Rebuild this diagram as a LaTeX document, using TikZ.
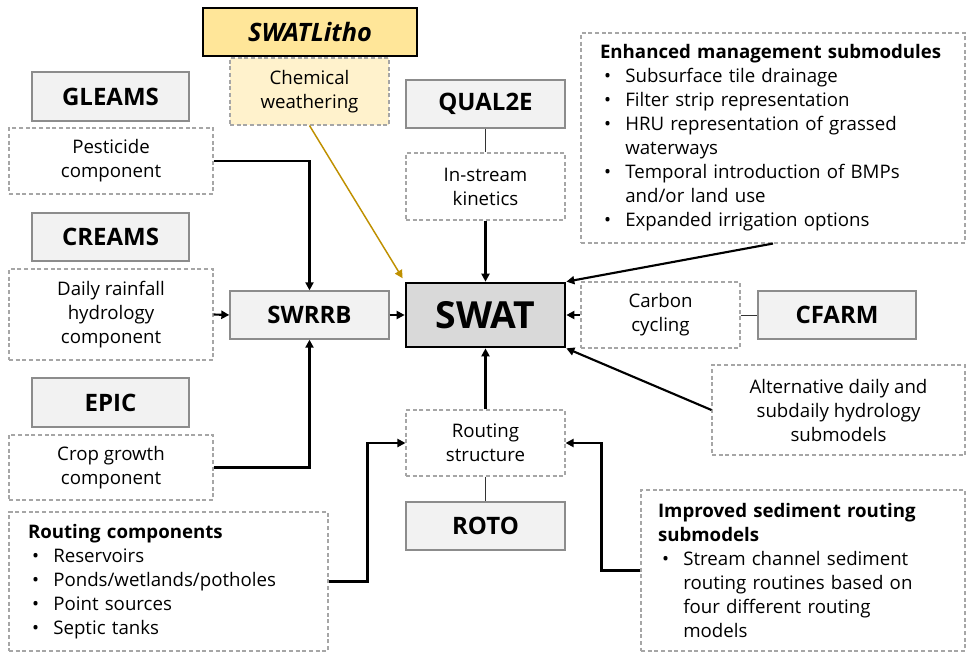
\documentclass[tikz,border=0pt]{standalone}
\usepackage{fontspec}
\setmainfont{Open Sans}
\usetikzlibrary{arrows.meta}
\definecolor{boxfill}{HTML}{F2F2F2}
\definecolor{boxline}{HTML}{8C8C8C}
\definecolor{dashline}{HTML}{A6A6A6}
\definecolor{swatfill}{HTML}{D9D9D9}
\definecolor{lithofill}{HTML}{FFE699}
\definecolor{chemfill}{HTML}{FFF2CC}
\definecolor{goldline}{HTML}{BF9000}
\newcommand{\myitem}{\makebox[19pt][l]{\hspace{3pt}\textbullet}}
\newcommand{\mycont}{\hspace*{19pt}}
\begin{document}
\begin{tikzpicture}[x=0.75pt,y=-0.75pt,
  model/.style={draw=boxline, line width=1pt, fill=boxfill, font=\fontsize{18}{21}\selectfont\bfseries, inner sep=0pt, minimum width=118.5pt, minimum height=36pt},
  comp/.style={draw=dashline, dash pattern=on 3pt off 2pt, line width=0.8pt, fill=white, font=\fontsize{14}{18}\selectfont, align=center, inner sep=0pt},
  listbox/.style={comp, align=left, inner ysep=0pt},
  arr/.style={-{Triangle[length=6pt,width=6pt]}, line width=1.6pt},
  link/.style={line width=0.75pt, draw=black!80}]
\useasboundingbox (0,0) rectangle (966,653);

% top left
\node[model, fill=lithofill, draw=black, minimum width=160.5pt, font=\fontsize{19}{22}\selectfont\bfseries\itshape] (litho) at (310,32) {SWATLitho};
\node[comp, fill=chemfill, minimum width=119.25pt, minimum height=50.25pt] (chem) at (309.5,91.5) {Chemical\\weathering};

\node[model, minimum width=117.75pt, minimum height=36.75pt] (gleams) at (110.5,96.5) {GLEAMS};
\node[comp, minimum width=153pt, minimum height=49.5pt] (pest) at (111,161) {Pesticide\\component};
\node[model, minimum width=117.75pt] (creams) at (110.5,237) {CREAMS};
\node[comp, minimum width=153pt, minimum height=68.25pt] (daily) at (111,314.5) {Daily rainfall\\hydrology\\component};
\node[model, minimum width=117.75pt, minimum height=36.75pt] (epic) at (110.5,402.5) {EPIC};
\node[comp, minimum width=153pt, minimum height=48.75pt] (crop) at (111,467.5) {Crop growth\\component};

\node[model, minimum width=119.25pt] (swrrb) at (309.5,315) {SWRRB};
\node[model, fill=swatfill, draw=black, line width=2pt, minimum width=119.25pt, minimum height=48pt, font=\fontsize{28}{32}\selectfont\bfseries] (swat) at (485.5,315) {SWAT};

\node[model, minimum width=119.25pt] (qual) at (485.5,104) {QUAL2E};
\node[comp, minimum width=119.25pt, minimum height=50.25pt] (instream) at (485.5,186.5) {In-stream\\kinetics};

\node[listbox, minimum width=288pt, minimum height=157.5pt, text width=259.5pt, inner xsep=14.25pt] (enh) at (773,138)
 {\textbf{Enhanced management submodules}\\
  \myitem Subsurface tile drainage\\
  \myitem Filter strip representation\\
  \myitem HRU representation of grassed\\
  \mycont waterways\\
  \myitem Temporal introduction of BMPs\\
  \mycont and/or land use\\
  \myitem Expanded irrigation options};

\node[comp, minimum width=119.25pt, minimum height=49.5pt] (carbon) at (660.5,315) {Carbon\\cycling};
\node[model, minimum width=118.5pt] (cfarm) at (837,315) {CFARM};
\node[comp, minimum width=189.75pt, minimum height=67.5pt] (alt) at (838.5,410) {Alternative daily and\\subdaily hydrology\\submodels};

\node[comp, minimum width=119.25pt, minimum height=49.5pt] (rs) at (485.5,443) {Routing\\structure};
\node[model, minimum width=119.25pt] (roto) at (485.5,526) {ROTO};

\node[listbox, minimum width=239.25pt, minimum height=104.25pt, text width=210.75pt, inner xsep=14.25pt] (rc) at (168.5,581.5)
 {\textbf{Routing components}\\
  \myitem Reservoirs\\
  \myitem Ponds/wetlands/potholes\\
  \myitem Point sources\\
  \myitem Septic tanks};

\node[listbox, minimum width=243pt, minimum height=120.75pt, text width=217.5pt, inner xsep=12.75pt] (imp) at (803,570.5)
 {\textbf{Improved sediment routing}\\
  \textbf{submodels}\\
  \myitem Stream channel sediment\\
  \mycont routing routines based on\\
  \mycont four different routing\\
  \mycont models};

% connectors
\draw[arr] (pest.east) -| (swrrb.north);
\draw[arr] (daily.east) -- (swrrb.west);
\draw[arr] (crop.east) -| (swrrb.south);
\draw[arr] (swrrb.east) -- (swat.west);
\draw[arr, draw=goldline, line width=1.1pt, shorten >=3pt] (chem.south) -- (swat.north west);
\draw[link] (qual.south) -- (instream.north);
\draw[arr] (instream.south) -- (swat.north);
\draw[arr] (enh.south) -- (swat.north east);
\draw[arr] (carbon.west) -- (swat.east);
\draw[link] (carbon.east) -- (cfarm.west);
\draw[arr] (alt.west) -- (swat.south east);
\draw[arr] (rs.north) -- (swat.south);
\draw[link] (rs.south) -- (roto.north);
\draw[arr] (rc.east) -- ++(39,0) |- (rs.west);
\draw[arr] (imp.west) -- ++(-39,0) |- (rs.east);
\end{tikzpicture}
\end{document}
